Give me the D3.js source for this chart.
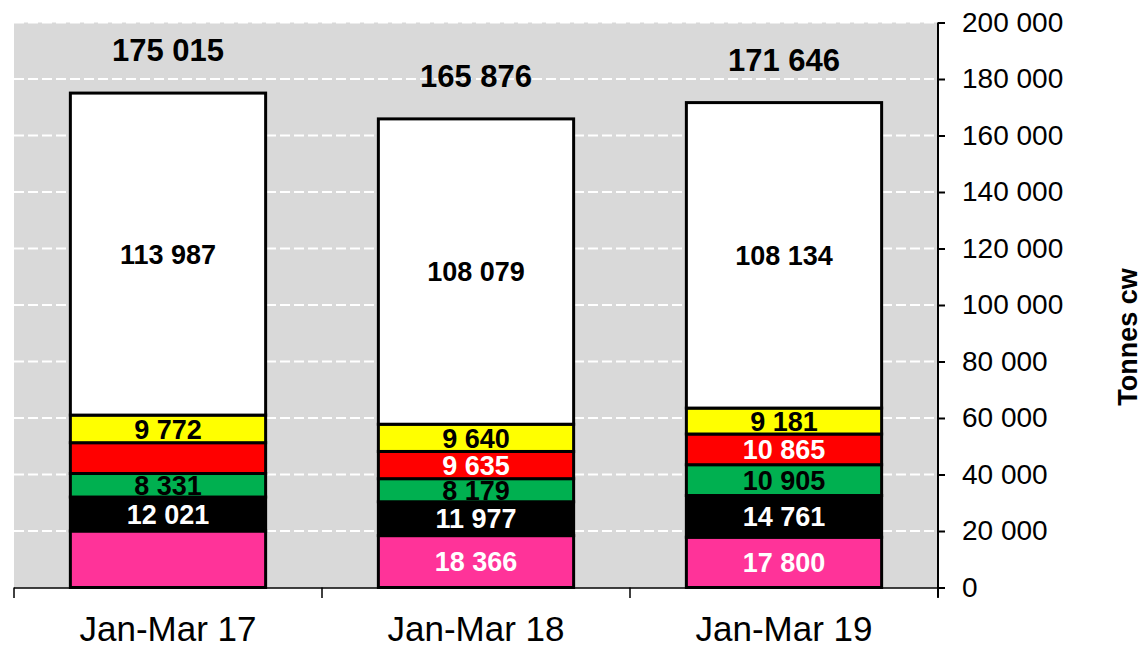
<!DOCTYPE html>
<html><head><meta charset="utf-8">
<script src="https://cdn.jsdelivr.net/npm/d3@7"></script>
<style>body{margin:0;background:#fff}svg{display:block}text{font-family:"Liberation Sans",Arial,sans-serif}</style>
</head><body>
<svg id="c" width="1144" height="647"></svg>
<script>
const categories = ["Jan-Mar 17", "Jan-Mar 18", "Jan-Mar 19"];
const pinkVals   = [20000, 18366, 17800];
const blackVals  = [12021, 11977, 14761];
const greenVals  = [8331, 8179, 10905];
const redVals    = [10904, 9635, 10865];
const yellowVals = [9772, 9640, 9181];
const whiteVals  = [113987, 108079, 108134];
const totals     = [175015, 165876, 171646];
const yTicks     = [0, 20000, 40000, 60000, 80000, 100000, 120000, 140000, 160000, 180000, 200000];
const hiddenLabels = [["pink", 0], ["red", 0]];
const yTitle = "Tonnes cw";

const series = [
  {key: "pink",   vals: pinkVals,   fill: "#ff3399", text: "#fff"},
  {key: "black",  vals: blackVals,  fill: "#000000", text: "#fff"},
  {key: "green",  vals: greenVals,  fill: "#00b050", text: "#000"},
  {key: "red",    vals: redVals,    fill: "#ff0000", text: "#fff"},
  {key: "yellow", vals: yellowVals, fill: "#ffff00", text: "#000"},
  {key: "white",  vals: whiteVals,  fill: "#ffffff", text: "#000"}
];

const fmt = v => d3.format(",")(v).replace(/,/g, " ");
const svg = d3.select("#c");
const L = 14, R = 938, T = 22.5, B = 587.5;

const x = d3.scaleBand().domain(categories).range([L, R]).paddingInner(0.366).paddingOuter(0.183);
const y = d3.scaleLinear().domain([0, 200000]).range([B, T]);

// background
svg.append("rect").attr("x", L).attr("y", T).attr("width", R - L).attr("height", B - T).attr("fill", "#d9d9d9");

// gridlines
svg.append("g").selectAll("line").data(yTicks.filter(d => d > 0)).join("line")
  .attr("x1", L).attr("x2", R).attr("y1", d => y(d)).attr("y2", d => y(d))
  .attr("stroke", "#fff").attr("stroke-width", 2.2).attr("stroke-dasharray", "10,4");

// stacked data
const rows = categories.map((c, i) => {
  const o = {cat: c};
  series.forEach(s => o[s.key] = s.vals[i]);
  return o;
});
const stack = d3.stack().keys(series.map(s => s.key))(rows);

const g = svg.append("g");
stack.forEach((layer, li) => {
  const s = series[li];
  g.selectAll(null).data(layer).join("rect")
    .attr("x", d => x(d.data.cat))
    .attr("width", x.bandwidth())
    .attr("y", d => y(d[1]))
    .attr("height", d => y(d[0]) - y(d[1]))
    .attr("fill", s.fill).attr("stroke", "#000").attr("stroke-width", 3);
});
stack.forEach((layer, li) => {
  const s = series[li];
  g.selectAll(null).data(layer.map((d, i) => ({d, i})).filter(o => !hiddenLabels.some(h => h[0] === s.key && h[1] === o.i)))
    .join("text")
    .attr("x", o => x(o.d.data.cat) + x.bandwidth() / 2)
    .attr("y", o => (y(o.d[0]) + y(o.d[1])) / 2)
    .attr("dy", "0.36em")
    .attr("text-anchor", "middle")
    .attr("font-size", 27).attr("font-weight", "bold")
    .attr("fill", s.text)
    .text(o => fmt(s.vals[o.i]));
});

// totals
svg.append("g").selectAll("text").data(totals).join("text")
  .attr("x", (d, i) => x(categories[i]) + x.bandwidth() / 2)
  .attr("y", d => y(d) - 32)
  .attr("text-anchor", "middle")
  .attr("font-size", 31).attr("font-weight", "bold").attr("fill", "#000")
  .text(d => fmt(d));

// x axis
const xa = svg.append("g");
xa.append("line").attr("x1", L).attr("x2", R).attr("y1", B + 0.5).attr("y2", B + 0.5).attr("stroke", "#000").attr("stroke-width", 1.5);
const bounds = [L].concat(categories.map(c => x(c) + x.bandwidth() + x.step() * x.paddingInner() / 2));
bounds[bounds.length - 1] = R;
xa.selectAll("line.t").data(bounds).join("line").attr("class", "t")
  .attr("x1", d => d).attr("x2", d => d).attr("y1", B).attr("y2", B + 10.5)
  .attr("stroke", "#000").attr("stroke-width", 1.5);
xa.selectAll("text").data(categories).join("text")
  .attr("x", d => x(d) + x.bandwidth() / 2).attr("y", 641)
  .attr("text-anchor", "middle").attr("font-size", 35).attr("fill", "#000")
  .text(d => d);

// right y axis
const ya = svg.append("g").attr("transform", `translate(${R},0)`)
  .call(d3.axisRight(y).tickValues(yTicks).tickFormat(fmt).tickSize(7).tickPadding(17));
ya.select(".domain").attr("d", `M0,${T}V${B + 10}`).attr("stroke", "#000").attr("stroke-width", 2);
ya.selectAll(".tick line").attr("stroke", "#000").attr("stroke-width", 2);
ya.selectAll(".tick text").attr("font-size", 28).attr("fill", "#000").attr("font-family", "'Liberation Sans',Arial,sans-serif");

// title
svg.append("text").attr("transform", "translate(1137,337) rotate(-90)")
  .attr("text-anchor", "middle").attr("font-size", 27).attr("font-weight", "bold").attr("fill", "#000")
  .text(yTitle);
</script>
</body></html>
